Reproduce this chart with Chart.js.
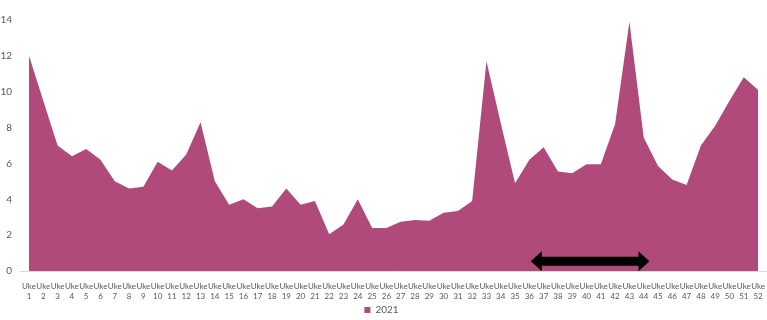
<!DOCTYPE html>
<html>
<head>
<meta charset="utf-8">
<script src="https://cdn.jsdelivr.net/npm/chart.js@4"></script>
<style>
  html, body { margin: 0; padding: 0; background: #fff; }
  #wrap { width: 767px; height: 320px; }
</style>
</head>
<body>
<div id="wrap"><canvas id="chart"></canvas></div>
<script>
// weeks 1..52
const weeks = [];
for (let i = 1; i <= 52; i++) weeks.push(i);
const weekLabels = weeks.map(w => ['Uke', String(w)]);

const seriesName = '2021';
const values2021 = [
  12.0, 9.5, 7.0, 6.4, 6.8, 6.2, 5.0, 4.6, 4.7, 6.1,
  5.6, 6.5, 8.3, 5.0, 3.7, 4.0, 3.5, 3.6, 4.6, 3.7,
  3.9, 2.05, 2.6, 4.0, 2.4, 2.4, 2.75, 2.85, 2.8, 3.25,
  3.35, 3.9, 11.7, 8.25, 4.9, 6.2, 6.9, 5.55, 5.45, 5.95,
  5.95, 8.2, 13.9, 7.45, 5.85, 5.1, 4.8, 7.0, 8.1, 9.5,
  10.8, 10.1
];
const yTicks = [0, 2, 4, 6, 8, 10, 12, 14];

// double arrow annotation (x in category index units, y in value units)
const arrowFrom = 35.1;
const arrowTo = 43.4;
const arrowY = 0.55;

const fillColor = '#b04a7a';
const textColor = '#595959';

const extras = {
  id: 'extras',
  afterDatasetsDraw(chart) {
    const ctx = chart.ctx;
    const x = chart.scales.x, y = chart.scales.y;
    const base = y.getPixelForValue(0);
    // baseline
    ctx.save();
    ctx.strokeStyle = '#d9d9d9';
    ctx.lineWidth = 1;
    ctx.beginPath();
    ctx.moveTo(chart.chartArea.left - 9, base + 0.5);
    ctx.lineTo(chart.width, base + 0.5);
    ctx.stroke();

    // arrow
    const x1 = x.getPixelForValue(arrowFrom);
    const x2 = x.getPixelForValue(arrowTo);
    const ay = y.getPixelForValue(arrowY);
    const head = 11, hh = 10, sh = 4.5;
    ctx.fillStyle = '#000';
    ctx.beginPath();
    ctx.moveTo(x1, ay);
    ctx.lineTo(x1 + head, ay - hh);
    ctx.lineTo(x1 + head, ay - sh);
    ctx.lineTo(x2 - head, ay - sh);
    ctx.lineTo(x2 - head, ay - hh);
    ctx.lineTo(x2, ay);
    ctx.lineTo(x2 - head, ay + hh);
    ctx.lineTo(x2 - head, ay + sh);
    ctx.lineTo(x1 + head, ay + sh);
    ctx.lineTo(x1 + head, ay + hh);
    ctx.closePath();
    ctx.fill();
    ctx.restore();
  }
};

new Chart(document.getElementById('chart'), {
  type: 'line',
  data: {
    labels: weekLabels,
    datasets: [{
      label: seriesName,
      data: values2021,
      fill: 'origin',
      backgroundColor: fillColor,
      borderColor: fillColor,
      borderWidth: 0,
      pointRadius: 0,
      tension: 0
    }]
  },
  options: {
    responsive: true,
    maintainAspectRatio: false,
    animation: false,
    layout: { padding: { top: 20, right: 4, left: 0, bottom: -5 } },
    plugins: {
      legend: {
        position: 'bottom',
        labels: {
          boxWidth: 6,
          boxHeight: 6,
          padding: 2,
          color: textColor,
          font: { family: 'Lato', size: 10 }
        }
      },
      tooltip: { enabled: false }
    },
    scales: {
      x: {
        grid: { display: false },
        border: { display: false },
        ticks: {
          autoSkip: false,
          maxRotation: 0,
          minRotation: 0,
          padding: 2,
          color: textColor,
          font: { family: 'Lato', size: 8, lineHeight: 1.25 }
        }
      },
      y: {
        min: 0,
        max: 14,
        afterFit(scale) { scale.width = 29; },
        afterBuildTicks(scale) { scale.ticks = yTicks.map(v => ({ value: v })); },
        grid: { display: false },
        border: { display: false },
        ticks: {
          padding: 9,
          color: textColor,
          font: { family: 'Lato', size: 10 }
        }
      }
    }
  },
  plugins: [extras]
});
</script>
</body>
</html>
